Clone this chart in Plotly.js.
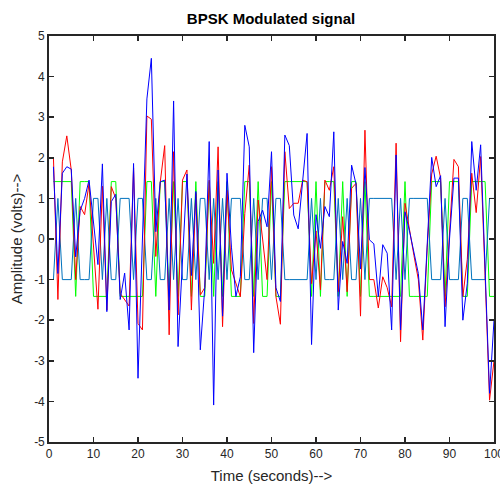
<!DOCTYPE html>
<html>
<head>
<meta charset="utf-8">
<script src="https://cdn.plot.ly/plotly-3.0.1.min.js"></script>
<style>html,body{margin:0;padding:0;background:#fff}</style>
</head>
<body>
<div id="chart" style="width:500px;height:486px"></div>
<script>
const time = [1,2,3,4,5,6,7,8,9,10,11,12,13,14,15,16,17,18,19,20,21,22,23,24,25,26,27,28,29,30,31,32,33,34,35,36,37,38,39,40,41,42,43,44,45,46,47,48,49,50,51,52,53,54,55,56,57,58,59,60,61,62,63,64,65,66,67,68,69,70,71,72,73,74,75,76,77,78,79,80,81,82,83,84,85,86,87,88,89,90,91,92,93,94,95,96,97,98,99,100];

const redSignal = [2.0,-1.49,1.9,2.54,1.7,-1.0,0.8,0.6,1.37,-0.2,
  -1.73,1.3,-1.75,1.29,1.0,-1.34,-1.5,-1.65,1.75,-2.08,
  -2.24,3.03,2.95,-0.43,1.4,2.3,-2.36,2.15,-1.87,1.45,
  1.7,-1.75,1.12,-1.38,-1.2,1.45,-0.6,2.27,-2.16,1.2,
  -0.76,-1.1,-1.42,0.63,1.82,-2.08,0.96,0.0,-1.0,1.78,
  -1.42,-2.1,2.15,0.75,0.88,0.88,1.45,1.41,-1.1,0.2,
  -1.25,1.45,1.2,1.78,-1.3,0.55,-1.3,1.25,1.37,-1.9,
  2.68,-1.0,-1.0,-1.7,-0.93,-1.2,-1.67,2.36,-2.53,0.88,
  0.2,-0.4,-1.0,-2.49,-0.2,1.6,2.04,1.5,-1.67,0.2,
  1.96,1.78,-1.42,-0.5,1.62,0.65,2.03,-0.9,-3.97,-3.0];

const blueSignal = [1.78,-0.85,1.62,1.78,1.72,-0.44,0.7,1.0,1.45,0.4,
  -0.63,1.85,-1.79,0.92,1.1,-1.49,-0.84,-2.24,1.86,-3.43,
  0.0,3.45,4.45,0.18,1.41,1.45,-1.75,3.4,-2.65,-0.5,
  1.6,-0.9,1.17,-2.73,-1.2,2.4,-4.09,1.7,-1.9,1.62,
  -0.2,-1.42,-0.93,2.8,2.27,-2.8,0.43,0.71,0.3,2.15,
  -1.2,-1.54,2.56,2.3,0.59,0.25,1.45,2.6,-2.6,0.6,
  -0.23,0.8,0.55,2.64,-1.75,-0.06,-0.6,1.82,1.35,-0.74,
  1.76,-0.02,-0.12,-1.42,-0.14,-0.35,-2.24,2.07,-2.24,0.67,
  0.2,-0.33,-0.85,-2.24,-0.2,2.01,1.29,1.56,-2.16,0.0,
  1.5,1.5,-2.0,-1.09,2.4,1.2,2.32,-0.7,-3.8,-2.0];

const greenSignal = [1.414,1.414,1.414,1.414,1.414,-1.414,1.414,1.414,1.414,-1.414,
  -1.414,-1.414,-1.414,1.414,1.414,-1.414,-1.414,-1.414,-1.414,-1.414,
  -1.414,1.414,1.414,-1.414,1.414,1.414,-1.414,1.414,-1.414,1.414,
  1.414,-1.414,1.414,-1.414,-1.414,1.414,-1.414,1.414,-1.414,1.414,
  -1.414,-1.414,-1.414,1.414,1.414,-1.414,1.414,-1.414,-1.414,1.414,
  -1.414,-1.414,1.414,1.414,1.414,1.414,1.414,1.414,-1.414,1.414,
  -1.414,1.414,1.414,1.414,-1.414,1.414,-1.414,1.414,1.414,-1.414,
  1.414,-1.414,-1.414,-1.414,-1.414,-1.414,-1.414,-1.414,-1.414,1.414,
  -1.414,-1.414,-1.414,-1.414,-1.414,1.414,1.414,1.414,-1.414,1.414,
  1.414,1.414,-1.414,-1.414,1.414,1.414,1.414,1.414,-1.414,-1.414];

const carrierSignal = [-1,1,-1,-1,-1,1,-1,-1,-1,1,
  1,-1,1,-1,-1,1,1,1,-1,1,
  1,-1,-1,1,-1,-1,1,-1,1,-1,
  -1,1,-1,1,1,-1,1,-1,1,-1,
  1,1,1,-1,-1,1,-1,1,1,-1,
  1,1,-1,-1,-1,-1,-1,-1,1,-1,
  1,-1,-1,-1,1,-1,1,-1,-1,1,
  -1,1,1,1,1,1,1,-1,1,-1,
  1,1,1,1,1,-1,-1,-1,1,-1,
  -1,-1,1,1,-1,-1,-1,-1,1,1];

const xTickVals = [0,10,20,30,40,50,60,70,80,90,100];
const xTickText = ["0","10","20","30","40","50","60","70","80","90","100"];
const yTickVals = [-5,-4,-3,-2,-1,0,1,2,3,4,5];
const yTickText = ["-5","-4","-3","-2","-1","0","1","2","3","4","5"];

const axisColor = '#262626';
const font = 'Liberation Sans, Arial, sans-serif';

const traces = [
  {x: time, y: greenSignal, mode: 'lines', line: {color: '#00ff00', width: 1}, hoverinfo: 'skip'},
  {x: time, y: carrierSignal, mode: 'lines', line: {color: '#0072bd', width: 1}, hoverinfo: 'skip'},
  {x: time, y: redSignal, mode: 'lines', line: {color: '#ff0000', width: 1}, hoverinfo: 'skip'},
  {x: time, y: blueSignal, mode: 'lines', line: {color: '#0000ff', width: 1}, hoverinfo: 'skip'}
];

const axisCommon = {
  showline: true, mirror: 'ticks', linecolor: axisColor, linewidth: 1.8,
  ticks: 'inside', ticklen: 5, tickwidth: 1.5, tickcolor: axisColor,
  showgrid: false, zeroline: false, ticklabeloverflow: 'allow',
  tickfont: {family: font, size: 12, color: axisColor}
};

const layout = {
  width: 500, height: 486,
  margin: {l: 49, r: 6, t: 36, b: 44},
  paper_bgcolor: '#ffffff', plot_bgcolor: '#ffffff',
  showlegend: false,
  title: {text: '<b>BPSK Modulated signal</b>', font: {family: font, size: 15, color: '#000'},
          x: 0.542, xref: 'container', y: 1 - 19/486, yref: 'container', xanchor: 'center', yanchor: 'middle'},
  xaxis: Object.assign({}, axisCommon, {
    range: [0, 100], tickmode: 'array', tickvals: xTickVals, ticktext: xTickText,
    title: {text: 'Time (seconds)-->', font: {family: font, size: 15, color: axisColor}, standoff: 10}
  }),
  yaxis: Object.assign({}, axisCommon, {
    range: [-5, 5], tickmode: 'array', tickvals: yTickVals, ticktext: yTickText,
    title: {text: 'Amplitude (volts)-->', font: {family: font, size: 15, color: axisColor}, standoff: 8}
  })
};

Plotly.newPlot('chart', traces, layout, {displayModeBar: false, staticPlot: true});
</script>
</body>
</html>
